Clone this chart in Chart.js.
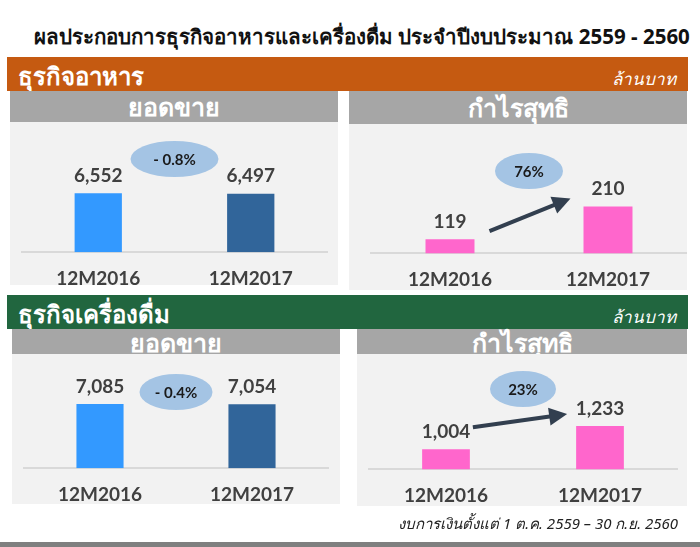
<!DOCTYPE html>
<html>
<head>
<meta charset="utf-8">
<script src="https://cdn.jsdelivr.net/npm/chart.js@4.4.0/dist/chart.umd.min.js"></script>
<style>
  body { margin: 0; background: #fff; font-family: "Noto Sans", "DejaVu Sans", sans-serif; }
  #page { position: relative; width: 700px; height: 547px; overflow: hidden; }
  .abs { position: absolute; }
  #title { left: 0; width: 724px; top: 20px; text-align: center; font-size: 20.5px; font-weight: bold; color: #111; white-space: nowrap; }
  .band { left: 7px; width: 681px; height: 34px; color: #fff; }
  .band .name { position: absolute; left: 11px; top: 0px; font-size: 24px; font-weight: bold; }
  .band .unit { position: absolute; right: 12px; top: 8px; font-size: 17px; font-style: italic; }
  .head { background: #A6A6A6; color: #fff; text-align: center; font-size: 25px; font-weight: bold; }
  .panel { background: #F2F2F2; }
  #note { right: 22px; top: 512px; font-size: 15px; font-style: italic; color: #222; }
  #foot { left: 0; top: 542px; width: 700px; height: 5px; background: #7F7F7F; }
</style>
</head>
<body>
<div id="page">
  <div id="title" class="abs">ผลประกอบการธุรกิจอาหารและเครื่องดื่ม ประจำปีงบประมาณ 2559 - 2560</div>

  <div class="abs band" style="top:57px;background:#C55A11"><span class="name">ธุรกิจอาหาร</span><span class="unit">ล้านบาท</span></div>
  <div class="abs head" style="left:10px;top:91px;width:328px;height:31px;line-height:31px">ยอดขาย</div>
  <div class="abs panel" style="left:10px;top:122px;width:328px;height:163px"></div>
  <div class="abs head" style="left:349px;top:91px;width:338px;height:33px;line-height:33px">กำไรสุทธิ</div>
  <div class="abs panel" style="left:349px;top:124px;width:338px;height:166px"></div>

  <div class="abs band" style="top:295px;background:#21663F"><span class="name">ธุรกิจเครื่องดื่ม</span><span class="unit">ล้านบาท</span></div>
  <div class="abs head" style="left:12px;top:329px;width:328px;height:25px;line-height:27px">ยอดขาย</div>
  <div class="abs panel" style="left:12px;top:354px;width:328px;height:150px"></div>
  <div class="abs head" style="left:357px;top:329px;width:330px;height:25px;line-height:27px">กำไรสุทธิ</div>
  <div class="abs panel" style="left:357px;top:354px;width:330px;height:152px"></div>

  <div class="abs" style="left:10px;top:122px;width:328px;height:183px"><canvas id="c1"></canvas></div>
  <div class="abs" style="left:349px;top:124px;width:338px;height:182px"><canvas id="c2"></canvas></div>
  <div class="abs" style="left:12px;top:354px;width:328px;height:167px"><canvas id="c3"></canvas></div>
  <div class="abs" style="left:357px;top:354px;width:330px;height:168px"><canvas id="c4"></canvas></div>

  <div id="note" class="abs">งบการเงินตั้งแต่ 1 ต.ค. 2559 – 30 ก.ย. 2560</div>
  <div id="foot" class="abs"></div>
</div>

<script>
// data
const categories = ["12M2016", "12M2017"];
const foodSales = [6552, 6497];
const foodProfit = [119, 210];
const drinkSales = [7085, 7054];
const drinkProfit = [1004, 1233];
const changeLabels = ["- 0.8%", "76%", "- 0.4%", "23%"];

const salesColors = ["#3399FF", "#31659A"];
const profitColors = ["#FF66CC", "#FF66CC"];

// value labels, % badge and arrow
const extras = {
  id: "extras",
  afterDatasetsDraw(chart, args, opts) {
    const ctx = chart.ctx;
    const bars = chart.getDatasetMeta(0).data;
    const values = chart.data.datasets[0].data;
    ctx.save();
    ctx.fillStyle = "#404040";
    ctx.font = "bold 19px Lato";
    ctx.textAlign = "center";
    ctx.textBaseline = "bottom";
    bars.forEach((b, i) => {
      ctx.fillText(values[i].toLocaleString("en-US"), b.x, b.y - 8);
    });

    // badge
    const cx = (bars[0].x + bars[1].x) / 2;
    const cy = chart.chartArea.top + opts.badgeY;
    ctx.fillStyle = "#A4C4E4";
    ctx.beginPath();
    ctx.ellipse(cx, cy, opts.badgeW / 2, 18, 0, 0, Math.PI * 2);
    ctx.fill();
    ctx.fillStyle = "#1a1a1a";
    ctx.font = "bold 15px Lato";
    ctx.textBaseline = "middle";
    ctx.fillText(opts.badge, cx, cy + 1);

    // arrow
    if (opts.arrow) {
      const a = opts.arrow;
      const x1 = bars[0].x + halfWidth(bars[0]) + a.dx1, y1 = bars[0].y + a.dy1;
      const x2 = bars[1].x - halfWidth(bars[1]) + a.dx2, y2 = bars[1].y + a.dy2;
      const ang = Math.atan2(y2 - y1, x2 - x1);
      ctx.strokeStyle = "#323F4F";
      ctx.fillStyle = "#323F4F";
      ctx.lineWidth = 4;
      ctx.beginPath();
      ctx.moveTo(x1, y1);
      ctx.lineTo(x2 - 14 * Math.cos(ang), y2 - 14 * Math.sin(ang));
      ctx.stroke();
      ctx.beginPath();
      ctx.moveTo(x2, y2);
      ctx.lineTo(x2 - 18 * Math.cos(ang) + 9 * Math.sin(ang), y2 - 18 * Math.sin(ang) - 9 * Math.cos(ang));
      ctx.lineTo(x2 - 18 * Math.cos(ang) - 9 * Math.sin(ang), y2 - 18 * Math.sin(ang) + 9 * Math.cos(ang));
      ctx.closePath();
      ctx.fill();
    }
    ctx.restore();
  }
};

function halfWidth(bar) {
  return bar.width / 2;
}

function makeChart(id, values, colors, yMin, yMax, pad, extraOpts) {
  const ctx = document.getElementById(id).getContext("2d");
  return new Chart(ctx, {
    type: "bar",
    data: {
      labels: categories,
      datasets: [{
        data: values,
        backgroundColor: colors,
        barPercentage: 0.31,
        categoryPercentage: 1
      }]
    },
    options: {
      responsive: true,
      maintainAspectRatio: false,
      animation: false,
      layout: { padding: pad },
      scales: {
        x: {
          grid: { display: false, drawTicks: false },
          border: { display: true, color: "#D9D9D9", width: 2 },
          ticks: { color: "#404040", font: { family: "Lato", size: 19, weight: "bold" }, padding: 15 }
        },
        y: { display: false, min: yMin, max: yMax }
      },
      plugins: {
        legend: { display: false },
        tooltip: { enabled: false },
        extras: extraOpts
      }
    },
    plugins: [extras]
  });
}

makeChart("c1", foodSales, salesColors, 0, 12450, { left: 12, right: 11, top: 18, bottom: 0 },
  { badge: changeLabels[0], badgeY: 19, badgeW: 88 });
makeChart("c2", foodProfit, profitColors, 80, 395, { left: 22, right: 0, top: 16, bottom: 0 },
  { badge: changeLabels[1], badgeY: 31, badgeW: 68, arrow: { dx1: 15, dy1: -8, dx2: -13, dy2: -8 } });
makeChart("c3", drinkSales, salesColors, 0, 10850, { left: 12, right: 12, top: 16, bottom: 0 },
  { badge: changeLabels[2], badgeY: 22, badgeW: 73 });
makeChart("c4", drinkProfit, profitColors, 805, 1790, { left: 12, right: 10, top: 16, bottom: 0 },
  { badge: changeLabels[3], badgeY: 19, badgeW: 66, arrow: { dx1: 3, dy1: -22, dx2: -9, dy2: -12 } });
</script>
</body>
</html>
